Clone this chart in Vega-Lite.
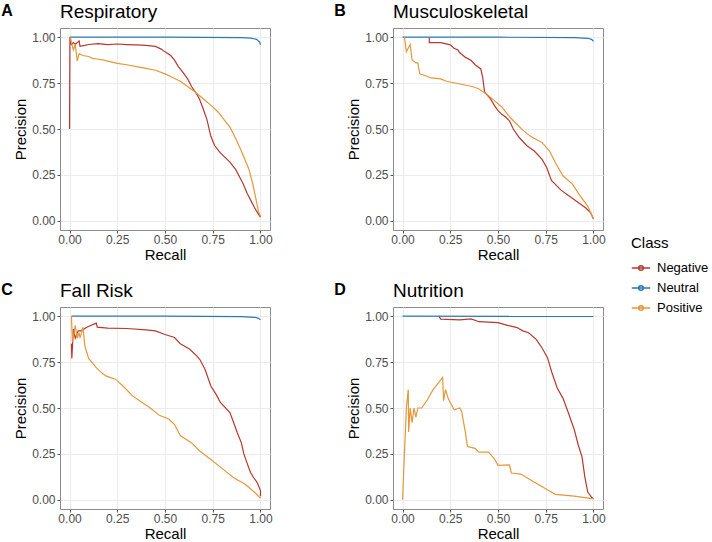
{
  "$schema": "https://vega.github.io/schema/vega-lite/v6.json",
  "padding": {"left": 1, "top": 2, "right": 4, "bottom": 1},
  "background": "white",
  "datasets": {
    "resp": [
      {"Class": "Negative", "Recall": 0, "Precision": 0.5},
      {"Class": "Negative", "Recall": 0.002, "Precision": 1.0},
      {"Class": "Negative", "Recall": 0.004, "Precision": 0.97},
      {"Class": "Negative", "Recall": 0.01, "Precision": 0.96},
      {"Class": "Negative", "Recall": 0.02, "Precision": 0.97},
      {"Class": "Negative", "Recall": 0.03, "Precision": 0.96},
      {"Class": "Negative", "Recall": 0.05, "Precision": 0.98},
      {"Class": "Negative", "Recall": 0.055, "Precision": 0.95},
      {"Class": "Negative", "Recall": 0.08, "Precision": 0.955},
      {"Class": "Negative", "Recall": 0.1, "Precision": 0.96},
      {"Class": "Negative", "Recall": 0.15, "Precision": 0.965},
      {"Class": "Negative", "Recall": 0.2, "Precision": 0.96},
      {"Class": "Negative", "Recall": 0.25, "Precision": 0.963},
      {"Class": "Negative", "Recall": 0.3, "Precision": 0.96},
      {"Class": "Negative", "Recall": 0.35, "Precision": 0.958},
      {"Class": "Negative", "Recall": 0.4, "Precision": 0.955},
      {"Class": "Negative", "Recall": 0.45, "Precision": 0.95},
      {"Class": "Negative", "Recall": 0.48, "Precision": 0.935},
      {"Class": "Negative", "Recall": 0.5, "Precision": 0.92},
      {"Class": "Negative", "Recall": 0.53, "Precision": 0.9},
      {"Class": "Negative", "Recall": 0.55, "Precision": 0.875},
      {"Class": "Negative", "Recall": 0.57, "Precision": 0.84},
      {"Class": "Negative", "Recall": 0.6, "Precision": 0.8},
      {"Class": "Negative", "Recall": 0.62, "Precision": 0.77},
      {"Class": "Negative", "Recall": 0.64, "Precision": 0.73},
      {"Class": "Negative", "Recall": 0.66, "Precision": 0.7},
      {"Class": "Negative", "Recall": 0.68, "Precision": 0.665},
      {"Class": "Negative", "Recall": 0.7, "Precision": 0.61},
      {"Class": "Negative", "Recall": 0.72, "Precision": 0.55},
      {"Class": "Negative", "Recall": 0.74, "Precision": 0.46},
      {"Class": "Negative", "Recall": 0.76, "Precision": 0.41},
      {"Class": "Negative", "Recall": 0.79, "Precision": 0.37},
      {"Class": "Negative", "Recall": 0.82, "Precision": 0.34},
      {"Class": "Negative", "Recall": 0.84, "Precision": 0.32},
      {"Class": "Negative", "Recall": 0.87, "Precision": 0.28},
      {"Class": "Negative", "Recall": 0.89, "Precision": 0.24},
      {"Class": "Negative", "Recall": 0.91, "Precision": 0.2},
      {"Class": "Negative", "Recall": 0.93, "Precision": 0.15},
      {"Class": "Negative", "Recall": 0.95, "Precision": 0.11},
      {"Class": "Negative", "Recall": 0.97, "Precision": 0.07},
      {"Class": "Negative", "Recall": 0.99, "Precision": 0.035},
      {"Class": "Negative", "Recall": 1.0, "Precision": 0.02},
      {"Class": "Neutral", "Recall": 0, "Precision": 1.0},
      {"Class": "Neutral", "Recall": 0.5, "Precision": 1.0},
      {"Class": "Neutral", "Recall": 0.9, "Precision": 0.998},
      {"Class": "Neutral", "Recall": 0.95, "Precision": 0.995},
      {"Class": "Neutral", "Recall": 0.98, "Precision": 0.988},
      {"Class": "Neutral", "Recall": 0.995, "Precision": 0.975},
      {"Class": "Neutral", "Recall": 1.0, "Precision": 0.958},
      {"Class": "Positive", "Recall": 0.005, "Precision": 1.0},
      {"Class": "Positive", "Recall": 0.01, "Precision": 0.97},
      {"Class": "Positive", "Recall": 0.02, "Precision": 0.93},
      {"Class": "Positive", "Recall": 0.03, "Precision": 0.96},
      {"Class": "Positive", "Recall": 0.04, "Precision": 0.87},
      {"Class": "Positive", "Recall": 0.05, "Precision": 0.91},
      {"Class": "Positive", "Recall": 0.07, "Precision": 0.9},
      {"Class": "Positive", "Recall": 0.1, "Precision": 0.895},
      {"Class": "Positive", "Recall": 0.12, "Precision": 0.885},
      {"Class": "Positive", "Recall": 0.15, "Precision": 0.88},
      {"Class": "Positive", "Recall": 0.18, "Precision": 0.875},
      {"Class": "Positive", "Recall": 0.2, "Precision": 0.87},
      {"Class": "Positive", "Recall": 0.25, "Precision": 0.857},
      {"Class": "Positive", "Recall": 0.3, "Precision": 0.85},
      {"Class": "Positive", "Recall": 0.35, "Precision": 0.84},
      {"Class": "Positive", "Recall": 0.4, "Precision": 0.83},
      {"Class": "Positive", "Recall": 0.45, "Precision": 0.82},
      {"Class": "Positive", "Recall": 0.5, "Precision": 0.8},
      {"Class": "Positive", "Recall": 0.54, "Precision": 0.78},
      {"Class": "Positive", "Recall": 0.58, "Precision": 0.76},
      {"Class": "Positive", "Recall": 0.62, "Precision": 0.73},
      {"Class": "Positive", "Recall": 0.66, "Precision": 0.7},
      {"Class": "Positive", "Recall": 0.7, "Precision": 0.665},
      {"Class": "Positive", "Recall": 0.74, "Precision": 0.63},
      {"Class": "Positive", "Recall": 0.78, "Precision": 0.59},
      {"Class": "Positive", "Recall": 0.81, "Precision": 0.55},
      {"Class": "Positive", "Recall": 0.84, "Precision": 0.51},
      {"Class": "Positive", "Recall": 0.87, "Precision": 0.45},
      {"Class": "Positive", "Recall": 0.9, "Precision": 0.38},
      {"Class": "Positive", "Recall": 0.92, "Precision": 0.33},
      {"Class": "Positive", "Recall": 0.94, "Precision": 0.28},
      {"Class": "Positive", "Recall": 0.96, "Precision": 0.2},
      {"Class": "Positive", "Recall": 0.98, "Precision": 0.1},
      {"Class": "Positive", "Recall": 0.99, "Precision": 0.05},
      {"Class": "Positive", "Recall": 1.0, "Precision": 0.025}
    ],
    "musc": [
      {"Class": "Negative", "Recall": 0.14, "Precision": 1.0},
      {"Class": "Negative", "Recall": 0.14, "Precision": 0.97},
      {"Class": "Negative", "Recall": 0.2, "Precision": 0.97},
      {"Class": "Negative", "Recall": 0.25, "Precision": 0.958},
      {"Class": "Negative", "Recall": 0.27, "Precision": 0.94},
      {"Class": "Negative", "Recall": 0.29, "Precision": 0.93},
      {"Class": "Negative", "Recall": 0.3, "Precision": 0.915},
      {"Class": "Negative", "Recall": 0.33, "Precision": 0.89},
      {"Class": "Negative", "Recall": 0.36, "Precision": 0.873},
      {"Class": "Negative", "Recall": 0.38, "Precision": 0.85},
      {"Class": "Negative", "Recall": 0.41, "Precision": 0.827},
      {"Class": "Negative", "Recall": 0.42, "Precision": 0.78},
      {"Class": "Negative", "Recall": 0.43, "Precision": 0.7},
      {"Class": "Negative", "Recall": 0.46, "Precision": 0.665},
      {"Class": "Negative", "Recall": 0.48, "Precision": 0.63},
      {"Class": "Negative", "Recall": 0.5, "Precision": 0.6},
      {"Class": "Negative", "Recall": 0.52, "Precision": 0.58},
      {"Class": "Negative", "Recall": 0.54, "Precision": 0.565},
      {"Class": "Negative", "Recall": 0.56, "Precision": 0.545},
      {"Class": "Negative", "Recall": 0.58, "Precision": 0.5},
      {"Class": "Negative", "Recall": 0.61, "Precision": 0.455},
      {"Class": "Negative", "Recall": 0.65, "Precision": 0.41},
      {"Class": "Negative", "Recall": 0.69, "Precision": 0.38},
      {"Class": "Negative", "Recall": 0.73, "Precision": 0.336},
      {"Class": "Negative", "Recall": 0.755, "Precision": 0.29},
      {"Class": "Negative", "Recall": 0.78, "Precision": 0.22},
      {"Class": "Negative", "Recall": 0.83, "Precision": 0.167},
      {"Class": "Negative", "Recall": 0.88, "Precision": 0.13},
      {"Class": "Negative", "Recall": 0.92, "Precision": 0.1},
      {"Class": "Negative", "Recall": 0.96, "Precision": 0.07},
      {"Class": "Negative", "Recall": 0.985, "Precision": 0.045},
      {"Class": "Negative", "Recall": 1.0, "Precision": 0.01},
      {"Class": "Neutral", "Recall": 0, "Precision": 1.0},
      {"Class": "Neutral", "Recall": 0.5, "Precision": 1.0},
      {"Class": "Neutral", "Recall": 0.9, "Precision": 0.998},
      {"Class": "Neutral", "Recall": 0.97, "Precision": 0.994},
      {"Class": "Neutral", "Recall": 0.99, "Precision": 0.988},
      {"Class": "Neutral", "Recall": 1.0, "Precision": 0.978},
      {"Class": "Positive", "Recall": 0.01, "Precision": 1.0},
      {"Class": "Positive", "Recall": 0.02, "Precision": 0.92},
      {"Class": "Positive", "Recall": 0.04, "Precision": 0.96},
      {"Class": "Positive", "Recall": 0.05, "Precision": 0.876},
      {"Class": "Positive", "Recall": 0.07, "Precision": 0.86},
      {"Class": "Positive", "Recall": 0.08, "Precision": 0.86},
      {"Class": "Positive", "Recall": 0.09, "Precision": 0.8},
      {"Class": "Positive", "Recall": 0.12, "Precision": 0.79},
      {"Class": "Positive", "Recall": 0.15, "Precision": 0.778},
      {"Class": "Positive", "Recall": 0.2, "Precision": 0.773},
      {"Class": "Positive", "Recall": 0.23, "Precision": 0.76},
      {"Class": "Positive", "Recall": 0.3, "Precision": 0.745},
      {"Class": "Positive", "Recall": 0.37, "Precision": 0.73},
      {"Class": "Positive", "Recall": 0.4, "Precision": 0.718},
      {"Class": "Positive", "Recall": 0.44, "Precision": 0.69},
      {"Class": "Positive", "Recall": 0.47, "Precision": 0.664},
      {"Class": "Positive", "Recall": 0.52, "Precision": 0.62},
      {"Class": "Positive", "Recall": 0.55, "Precision": 0.58},
      {"Class": "Positive", "Recall": 0.58, "Precision": 0.545},
      {"Class": "Positive", "Recall": 0.63, "Precision": 0.494},
      {"Class": "Positive", "Recall": 0.67, "Precision": 0.46},
      {"Class": "Positive", "Recall": 0.73, "Precision": 0.427},
      {"Class": "Positive", "Recall": 0.77, "Precision": 0.38},
      {"Class": "Positive", "Recall": 0.8, "Precision": 0.318},
      {"Class": "Positive", "Recall": 0.84, "Precision": 0.245},
      {"Class": "Positive", "Recall": 0.89, "Precision": 0.2},
      {"Class": "Positive", "Recall": 0.93, "Precision": 0.136},
      {"Class": "Positive", "Recall": 0.97, "Precision": 0.08},
      {"Class": "Positive", "Recall": 1.0, "Precision": 0.01}
    ],
    "fall": [
      {"Class": "Negative", "Recall": 0.01, "Precision": 0.85},
      {"Class": "Negative", "Recall": 0.012, "Precision": 0.77},
      {"Class": "Negative", "Recall": 0.02, "Precision": 0.93},
      {"Class": "Negative", "Recall": 0.03, "Precision": 0.88},
      {"Class": "Negative", "Recall": 0.045, "Precision": 0.92},
      {"Class": "Negative", "Recall": 0.06, "Precision": 0.92},
      {"Class": "Negative", "Recall": 0.09, "Precision": 0.94},
      {"Class": "Negative", "Recall": 0.14, "Precision": 0.962},
      {"Class": "Negative", "Recall": 0.145, "Precision": 0.94},
      {"Class": "Negative", "Recall": 0.2, "Precision": 0.935},
      {"Class": "Negative", "Recall": 0.3, "Precision": 0.933},
      {"Class": "Negative", "Recall": 0.4, "Precision": 0.925},
      {"Class": "Negative", "Recall": 0.45, "Precision": 0.92},
      {"Class": "Negative", "Recall": 0.5, "Precision": 0.9},
      {"Class": "Negative", "Recall": 0.55, "Precision": 0.884},
      {"Class": "Negative", "Recall": 0.58, "Precision": 0.85},
      {"Class": "Negative", "Recall": 0.63, "Precision": 0.82},
      {"Class": "Negative", "Recall": 0.67, "Precision": 0.78},
      {"Class": "Negative", "Recall": 0.685, "Precision": 0.76},
      {"Class": "Negative", "Recall": 0.71, "Precision": 0.71},
      {"Class": "Negative", "Recall": 0.74, "Precision": 0.62},
      {"Class": "Negative", "Recall": 0.77, "Precision": 0.57},
      {"Class": "Negative", "Recall": 0.79, "Precision": 0.53},
      {"Class": "Negative", "Recall": 0.84, "Precision": 0.475},
      {"Class": "Negative", "Recall": 0.86, "Precision": 0.42},
      {"Class": "Negative", "Recall": 0.878, "Precision": 0.367},
      {"Class": "Negative", "Recall": 0.9, "Precision": 0.31},
      {"Class": "Negative", "Recall": 0.913, "Precision": 0.25},
      {"Class": "Negative", "Recall": 0.93, "Precision": 0.2},
      {"Class": "Negative", "Recall": 0.948, "Precision": 0.149},
      {"Class": "Negative", "Recall": 0.965, "Precision": 0.12},
      {"Class": "Negative", "Recall": 0.983, "Precision": 0.094},
      {"Class": "Negative", "Recall": 1.0, "Precision": 0.05},
      {"Class": "Negative", "Recall": 1.0, "Precision": 0.02},
      {"Class": "Neutral", "Recall": 0.01, "Precision": 1.0},
      {"Class": "Neutral", "Recall": 0.5, "Precision": 1.0},
      {"Class": "Neutral", "Recall": 0.9, "Precision": 0.998},
      {"Class": "Neutral", "Recall": 0.97, "Precision": 0.994},
      {"Class": "Neutral", "Recall": 0.99, "Precision": 0.988},
      {"Class": "Neutral", "Recall": 1.0, "Precision": 0.98},
      {"Class": "Positive", "Recall": 0.01, "Precision": 1.0},
      {"Class": "Positive", "Recall": 0.015, "Precision": 0.86},
      {"Class": "Positive", "Recall": 0.03, "Precision": 0.95},
      {"Class": "Positive", "Recall": 0.04, "Precision": 0.88},
      {"Class": "Positive", "Recall": 0.05, "Precision": 0.91},
      {"Class": "Positive", "Recall": 0.055, "Precision": 0.88},
      {"Class": "Positive", "Recall": 0.07, "Precision": 0.94},
      {"Class": "Positive", "Recall": 0.08, "Precision": 0.84},
      {"Class": "Positive", "Recall": 0.1, "Precision": 0.77},
      {"Class": "Positive", "Recall": 0.14, "Precision": 0.72},
      {"Class": "Positive", "Recall": 0.17, "Precision": 0.69},
      {"Class": "Positive", "Recall": 0.19, "Precision": 0.675},
      {"Class": "Positive", "Recall": 0.24, "Precision": 0.657},
      {"Class": "Positive", "Recall": 0.28, "Precision": 0.62},
      {"Class": "Positive", "Recall": 0.33, "Precision": 0.566},
      {"Class": "Positive", "Recall": 0.38, "Precision": 0.53},
      {"Class": "Positive", "Recall": 0.42, "Precision": 0.503},
      {"Class": "Positive", "Recall": 0.47, "Precision": 0.46},
      {"Class": "Positive", "Recall": 0.52, "Precision": 0.44},
      {"Class": "Positive", "Recall": 0.55, "Precision": 0.41},
      {"Class": "Positive", "Recall": 0.58, "Precision": 0.35},
      {"Class": "Positive", "Recall": 0.64, "Precision": 0.31},
      {"Class": "Positive", "Recall": 0.68, "Precision": 0.267},
      {"Class": "Positive", "Recall": 0.74, "Precision": 0.22},
      {"Class": "Positive", "Recall": 0.8, "Precision": 0.17},
      {"Class": "Positive", "Recall": 0.86, "Precision": 0.12},
      {"Class": "Positive", "Recall": 0.92, "Precision": 0.085},
      {"Class": "Positive", "Recall": 0.97, "Precision": 0.04},
      {"Class": "Positive", "Recall": 1.0, "Precision": 0.01}
    ],
    "nutr": [
      {"Class": "Negative", "Recall": 0.19, "Precision": 1.0},
      {"Class": "Negative", "Recall": 0.2, "Precision": 0.984},
      {"Class": "Negative", "Recall": 0.3, "Precision": 0.98},
      {"Class": "Negative", "Recall": 0.36, "Precision": 0.985},
      {"Class": "Negative", "Recall": 0.4, "Precision": 0.97},
      {"Class": "Negative", "Recall": 0.5, "Precision": 0.965},
      {"Class": "Negative", "Recall": 0.55, "Precision": 0.95},
      {"Class": "Negative", "Recall": 0.6, "Precision": 0.938},
      {"Class": "Negative", "Recall": 0.63, "Precision": 0.92},
      {"Class": "Negative", "Recall": 0.66, "Precision": 0.91},
      {"Class": "Negative", "Recall": 0.7, "Precision": 0.874},
      {"Class": "Negative", "Recall": 0.73, "Precision": 0.828},
      {"Class": "Negative", "Recall": 0.76, "Precision": 0.773},
      {"Class": "Negative", "Recall": 0.78, "Precision": 0.7},
      {"Class": "Negative", "Recall": 0.81, "Precision": 0.609},
      {"Class": "Negative", "Recall": 0.84, "Precision": 0.554},
      {"Class": "Negative", "Recall": 0.87, "Precision": 0.47},
      {"Class": "Negative", "Recall": 0.9, "Precision": 0.38},
      {"Class": "Negative", "Recall": 0.92, "Precision": 0.3},
      {"Class": "Negative", "Recall": 0.94, "Precision": 0.234},
      {"Class": "Negative", "Recall": 0.955, "Precision": 0.124},
      {"Class": "Negative", "Recall": 0.97, "Precision": 0.042},
      {"Class": "Negative", "Recall": 0.99, "Precision": 0.015},
      {"Class": "Negative", "Recall": 1.0, "Precision": 0.005},
      {"Class": "Neutral", "Recall": 0, "Precision": 1.0},
      {"Class": "Neutral", "Recall": 1.0, "Precision": 0.999},
      {"Class": "Positive", "Recall": 0, "Precision": 0},
      {"Class": "Positive", "Recall": 0.02, "Precision": 0.5},
      {"Class": "Positive", "Recall": 0.03, "Precision": 0.6},
      {"Class": "Positive", "Recall": 0.032, "Precision": 0.37},
      {"Class": "Positive", "Recall": 0.04, "Precision": 0.5},
      {"Class": "Positive", "Recall": 0.05, "Precision": 0.42},
      {"Class": "Positive", "Recall": 0.06, "Precision": 0.5},
      {"Class": "Positive", "Recall": 0.07, "Precision": 0.45},
      {"Class": "Positive", "Recall": 0.08, "Precision": 0.5},
      {"Class": "Positive", "Recall": 0.1, "Precision": 0.5},
      {"Class": "Positive", "Recall": 0.13, "Precision": 0.545},
      {"Class": "Positive", "Recall": 0.16, "Precision": 0.6},
      {"Class": "Positive", "Recall": 0.19, "Precision": 0.64},
      {"Class": "Positive", "Recall": 0.21, "Precision": 0.667},
      {"Class": "Positive", "Recall": 0.215, "Precision": 0.54},
      {"Class": "Positive", "Recall": 0.225, "Precision": 0.6},
      {"Class": "Positive", "Recall": 0.24, "Precision": 0.55},
      {"Class": "Positive", "Recall": 0.25, "Precision": 0.53},
      {"Class": "Positive", "Recall": 0.27, "Precision": 0.49},
      {"Class": "Positive", "Recall": 0.3, "Precision": 0.5},
      {"Class": "Positive", "Recall": 0.31, "Precision": 0.48},
      {"Class": "Positive", "Recall": 0.32, "Precision": 0.42},
      {"Class": "Positive", "Recall": 0.33, "Precision": 0.36},
      {"Class": "Positive", "Recall": 0.34, "Precision": 0.29},
      {"Class": "Positive", "Recall": 0.38, "Precision": 0.28},
      {"Class": "Positive", "Recall": 0.4, "Precision": 0.26},
      {"Class": "Positive", "Recall": 0.45, "Precision": 0.26},
      {"Class": "Positive", "Recall": 0.48, "Precision": 0.225},
      {"Class": "Positive", "Recall": 0.5, "Precision": 0.188},
      {"Class": "Positive", "Recall": 0.56, "Precision": 0.19},
      {"Class": "Positive", "Recall": 0.57, "Precision": 0.146},
      {"Class": "Positive", "Recall": 0.62, "Precision": 0.14},
      {"Class": "Positive", "Recall": 0.66, "Precision": 0.115},
      {"Class": "Positive", "Recall": 0.7, "Precision": 0.09},
      {"Class": "Positive", "Recall": 0.75, "Precision": 0.06},
      {"Class": "Positive", "Recall": 0.8, "Precision": 0.03},
      {"Class": "Positive", "Recall": 0.9, "Precision": 0.02},
      {"Class": "Positive", "Recall": 1.0, "Precision": 0.005}
    ]
  },
  "vconcat": [
    {
      "spacing": 61,
      "hconcat": [
        {
          "title": {"text": "A", "fontWeight": "bold", "fontSize": 16, "anchor": "start", "frame": "bounds", "offset": -16, "dx": -12},
          "vconcat": [{
            "width": 210, "height": 202,
            "title": {"text": "Respiratory", "frame": "group", "offset": 6},
            "data": {"name": "resp"},
            "resolve": {"axis": {"x": "independent", "y": "independent"}},
            "layer": [
              {"mark": {"type": "line", "strokeWidth": 1.2, "clip": true},
               "encoding": {
                 "x": {"field": "Recall", "type": "quantitative", "scale": {"domain": [-0.05, 1.05], "nice": false, "zero": false}, "axis": {"values": [0, 0.25, 0.5, 0.75, 1], "format": ".2f", "title": "Recall"}},
                 "y": {"field": "Precision", "type": "quantitative", "scale": {"domain": [-0.05, 1.05], "nice": false, "zero": false}, "axis": {"values": [0, 0.25, 0.5, 0.75, 1], "format": ".2f", "title": "Precision"}},
                 "color": {"field": "Class", "type": "nominal", "scale": {"domain": ["Negative", "Neutral", "Positive"], "range": ["#B8382E", "#2A78B5", "#E5973A"]}, "title": "Class"},
                 "order": {"value": null}}},
              {"mark": {"type": "line", "opacity": 0},
               "encoding": {
                 "x": {"field": "Recall", "type": "quantitative", "axis": {"values": [0.125, 0.375, 0.625, 0.875], "labels": false, "ticks": false, "domain": false, "title": null, "gridColor": "#F4F4F4"}},
                 "y": {"field": "Precision", "type": "quantitative", "axis": {"values": [0.125, 0.375, 0.625, 0.875], "labels": false, "ticks": false, "domain": false, "title": null, "gridColor": "#F4F4F4"}}}}
            ]
          }]
        },
        {
          "title": {"text": "B", "fontWeight": "bold", "fontSize": 16, "anchor": "start", "frame": "bounds", "offset": -16, "dx": -12},
          "vconcat": [{
            "width": 210, "height": 202,
            "title": {"text": "Musculoskeletal", "frame": "group", "offset": 6},
            "data": {"name": "musc"},
            "resolve": {"axis": {"x": "independent", "y": "independent"}},
            "layer": [
              {"mark": {"type": "line", "strokeWidth": 1.2, "clip": true},
               "encoding": {
                 "x": {"field": "Recall", "type": "quantitative", "scale": {"domain": [-0.05, 1.05], "nice": false, "zero": false}, "axis": {"values": [0, 0.25, 0.5, 0.75, 1], "format": ".2f", "title": "Recall"}},
                 "y": {"field": "Precision", "type": "quantitative", "scale": {"domain": [-0.05, 1.05], "nice": false, "zero": false}, "axis": {"values": [0, 0.25, 0.5, 0.75, 1], "format": ".2f", "title": "Precision"}},
                 "color": {"field": "Class", "type": "nominal", "scale": {"domain": ["Negative", "Neutral", "Positive"], "range": ["#B8382E", "#2A78B5", "#E5973A"]}, "title": "Class"},
                 "order": {"value": null}}},
              {"mark": {"type": "line", "opacity": 0},
               "encoding": {
                 "x": {"field": "Recall", "type": "quantitative", "axis": {"values": [0.125, 0.375, 0.625, 0.875], "labels": false, "ticks": false, "domain": false, "title": null, "gridColor": "#F4F4F4"}},
                 "y": {"field": "Precision", "type": "quantitative", "axis": {"values": [0.125, 0.375, 0.625, 0.875], "labels": false, "ticks": false, "domain": false, "title": null, "gridColor": "#F4F4F4"}}}}
            ]
          }]
        }
      ]
    },
    {
      "spacing": 61,
      "hconcat": [
        {
          "title": {"text": "C", "fontWeight": "bold", "fontSize": 16, "anchor": "start", "frame": "bounds", "offset": -16, "dx": -12},
          "vconcat": [{
            "width": 210, "height": 202,
            "title": {"text": "Fall Risk", "frame": "group", "offset": 6},
            "data": {"name": "fall"},
            "resolve": {"axis": {"x": "independent", "y": "independent"}},
            "layer": [
              {"mark": {"type": "line", "strokeWidth": 1.2, "clip": true},
               "encoding": {
                 "x": {"field": "Recall", "type": "quantitative", "scale": {"domain": [-0.05, 1.05], "nice": false, "zero": false}, "axis": {"values": [0, 0.25, 0.5, 0.75, 1], "format": ".2f", "title": "Recall"}},
                 "y": {"field": "Precision", "type": "quantitative", "scale": {"domain": [-0.05, 1.05], "nice": false, "zero": false}, "axis": {"values": [0, 0.25, 0.5, 0.75, 1], "format": ".2f", "title": "Precision"}},
                 "color": {"field": "Class", "type": "nominal", "scale": {"domain": ["Negative", "Neutral", "Positive"], "range": ["#B8382E", "#2A78B5", "#E5973A"]}, "title": "Class"},
                 "order": {"value": null}}},
              {"mark": {"type": "line", "opacity": 0},
               "encoding": {
                 "x": {"field": "Recall", "type": "quantitative", "axis": {"values": [0.125, 0.375, 0.625, 0.875], "labels": false, "ticks": false, "domain": false, "title": null, "gridColor": "#F4F4F4"}},
                 "y": {"field": "Precision", "type": "quantitative", "axis": {"values": [0.125, 0.375, 0.625, 0.875], "labels": false, "ticks": false, "domain": false, "title": null, "gridColor": "#F4F4F4"}}}}
            ]
          }]
        },
        {
          "title": {"text": "D", "fontWeight": "bold", "fontSize": 16, "anchor": "start", "frame": "bounds", "offset": -16, "dx": -12},
          "vconcat": [{
            "width": 210, "height": 202,
            "title": {"text": "Nutrition", "frame": "group", "offset": 6},
            "data": {"name": "nutr"},
            "resolve": {"axis": {"x": "independent", "y": "independent"}},
            "layer": [
              {"mark": {"type": "line", "strokeWidth": 1.2, "clip": true},
               "encoding": {
                 "x": {"field": "Recall", "type": "quantitative", "scale": {"domain": [-0.05, 1.05], "nice": false, "zero": false}, "axis": {"values": [0, 0.25, 0.5, 0.75, 1], "format": ".2f", "title": "Recall"}},
                 "y": {"field": "Precision", "type": "quantitative", "scale": {"domain": [-0.05, 1.05], "nice": false, "zero": false}, "axis": {"values": [0, 0.25, 0.5, 0.75, 1], "format": ".2f", "title": "Precision"}},
                 "color": {"field": "Class", "type": "nominal", "scale": {"domain": ["Negative", "Neutral", "Positive"], "range": ["#B8382E", "#2A78B5", "#E5973A"]}, "title": "Class"},
                 "order": {"value": null}}},
              {"mark": {"type": "line", "opacity": 0},
               "encoding": {
                 "x": {"field": "Recall", "type": "quantitative", "axis": {"values": [0.125, 0.375, 0.625, 0.875], "labels": false, "ticks": false, "domain": false, "title": null, "gridColor": "#F4F4F4"}},
                 "y": {"field": "Precision", "type": "quantitative", "axis": {"values": [0.125, 0.375, 0.625, 0.875], "labels": false, "ticks": false, "domain": false, "title": null, "gridColor": "#F4F4F4"}}}}
            ]
          }]
        }
      ]
    }
  ],
  "spacing": 18,
  "config": {
    "font": "Liberation Sans",
    "view": {"stroke": "#8C8C8C", "strokeWidth": 1},
    "axis": {
      "grid": true, "gridColor": "#EBEBEB", "gridWidth": 1,
      "domain": false, "tickColor": "#555555", "tickSize": 3,
      "labelColor": "#4D4D4D", "labelFontSize": 12, "labelPadding": 1,
      "titleFontSize": 15, "titleFontWeight": "normal", "titleColor": "#000000", "titlePadding": 2
    },
    "axisY": {"titlePadding": 3, "labelPadding": 2},
    "title": {"fontSize": 19, "fontWeight": "normal", "anchor": "start", "color": "#000000"},
    "legend": {
      "orient": "none", "legendX": 571, "legendY": 208,
      "titleFontSize": 15, "titleFontWeight": "normal", "titleColor": "#000000", "titlePadding": 7,
      "labelFontSize": 13, "labelColor": "#000000", "labelOffset": 6,
      "symbolType": "M-1,0L1,0M0.25,0A0.25,0.25,0,1,1,-0.25,0A0.25,0.25,0,1,1,0.25,0",
      "symbolSize": 340, "symbolStrokeWidth": 1.5, "rowPadding": 3, "offset": 0
    }
  }
}
